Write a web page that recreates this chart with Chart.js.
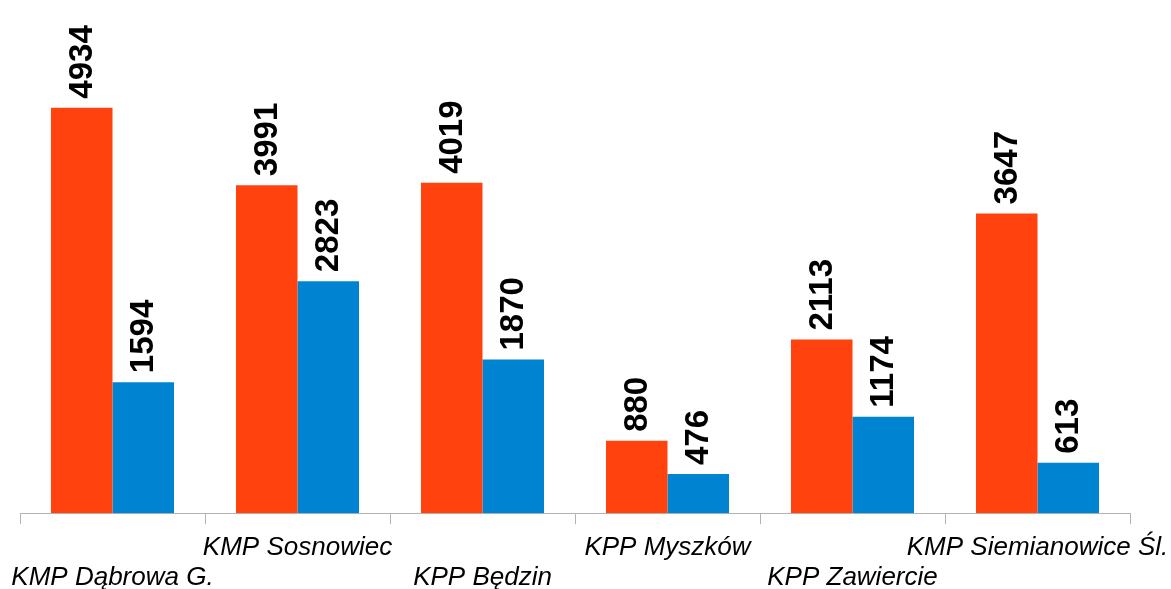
<!DOCTYPE html>
<html>
<head>
<meta charset="utf-8">
<script src="https://cdn.jsdelivr.net/npm/chart.js@4/dist/chart.umd.min.js"></script>
<style>
  body { margin: 0; background: #fff; }
  #wrap { width: 1171px; height: 589px; }
</style>
</head>
<body>
<div id="wrap"><canvas id="myChart" width="1171" height="589"></canvas></div>
<script>
// data
const categories = ["KMP Dąbrowa G.", "KMP Sosnowiec", "KPP Będzin", "KPP Myszków", "KPP Zawiercie", "KMP Siemianowice Śl."];
const series1 = [4934, 3991, 4019, 880, 2113, 3647];
const series2 = [1594, 2823, 1870, 476, 1174, 613];

// values written vertically above each bar
const barLabels = {
  id: "barLabels",
  afterDatasetsDraw(chart) {
    const ctx = chart.ctx;
    ctx.save();
    ctx.fillStyle = "#000";
    ctx.font = "bold 33px 'Liberation Sans', Arial, sans-serif";
    ctx.textAlign = "left";
    ctx.textBaseline = "middle";
    chart.data.datasets.forEach((ds, i) => {
      const meta = chart.getDatasetMeta(i);
      meta.data.forEach((bar, j) => {
        ctx.save();
        ctx.translate(bar.x + 1, bar.y - 9);
        ctx.rotate(-Math.PI / 2);
        ctx.fillText(String(ds.data[j]), 0, 0);
        ctx.restore();
      });
    });
    ctx.restore();
  }
};

const myChartRef = document.getElementById("myChart").getContext("2d");
new Chart(myChartRef, {
  type: "bar",
  data: {
    labels: categories,
    datasets: [
      { label: "A", data: series1, backgroundColor: "#ff420e" },
      { label: "B", data: series2, backgroundColor: "#0084d1" }
    ]
  },
  options: {
    responsive: false,
    animation: false,
    categoryPercentage: 0.665,
    barPercentage: 1.0,
    layout: {
      padding: { top: 20, left: 20, right: 41, bottom: -13 }
    },
    plugins: {
      legend: { display: false },
      tooltip: { enabled: false }
    },
    scales: {
      y: { display: false, min: 0, max: 6000 },
      x: {
        afterFit: function (scale) {
          // keep the plot width fixed, the last label may hang out
          scale.paddingLeft = 0;
          scale.paddingRight = 0;
        },
        grid: {
          drawOnChartArea: false,
          drawTicks: true,
          tickLength: 11,
          color: "#b3b3b3"
        },
        border: { color: "#b3b3b3" },
        ticks: {
          autoSkip: false,
          maxRotation: 0,
          padding: 9,
          color: "#000",
          font: { family: "'Liberation Sans', Arial, sans-serif", size: 26, style: "italic", lineHeight: 1.15 },
          callback: function (v, i) {
            // alternate rows like the original
            return i % 2 === 0 ? ["", categories[i]] : [categories[i], ""];
          }
        }
      }
    }
  },
  plugins: [barLabels]
});
</script>
</body>
</html>
